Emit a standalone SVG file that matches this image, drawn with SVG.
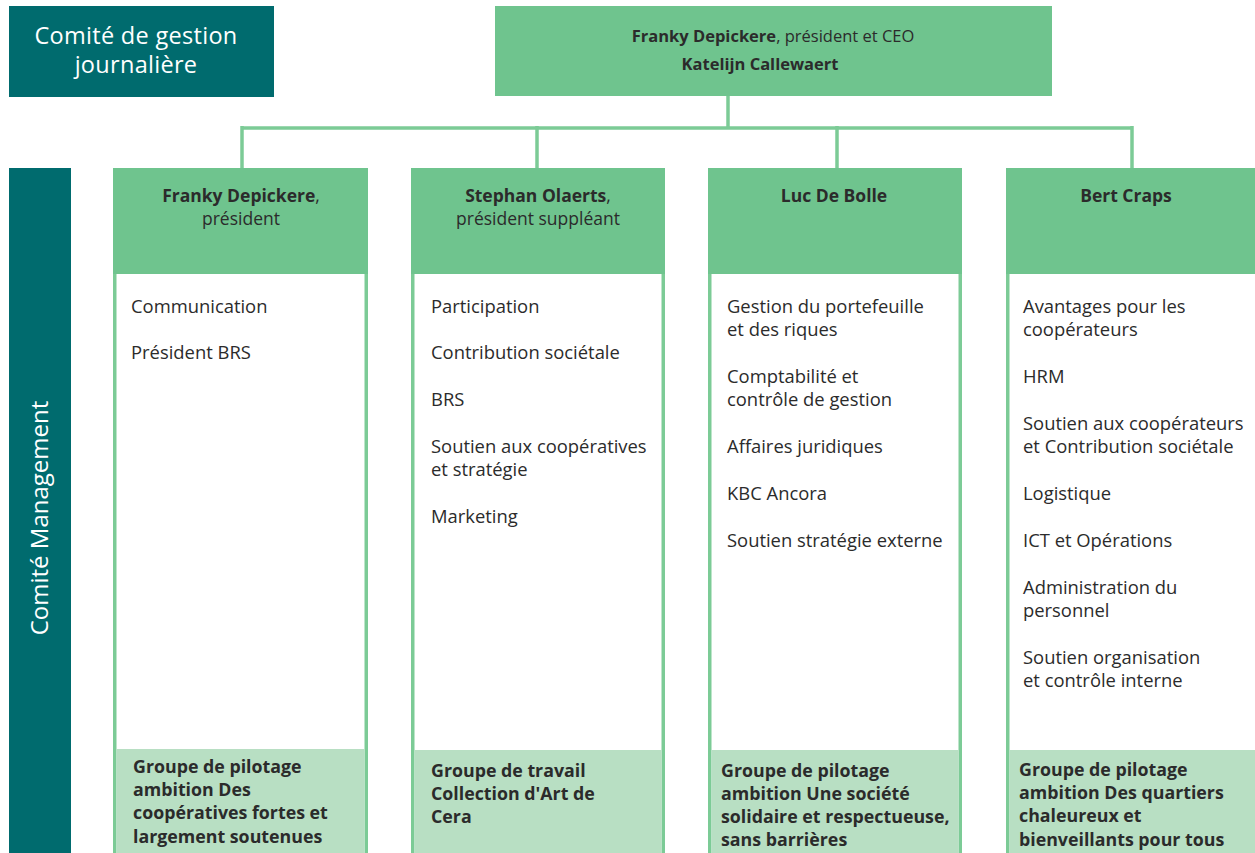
<svg xmlns="http://www.w3.org/2000/svg" width="1255" height="853" viewBox="0 0 1255 853">
<style>
text{font-family:"Open Sans","Lato",sans-serif;fill:#2b2b2b}
.teal{fill:#006b6e}
.hd{fill:#6fc48e}
.ft{fill:#b8dfc3}
.bd{fill:#ffffff;stroke:#7ccb96;stroke-width:3.5}
.li{font-size:18.4px}
.b{font-weight:700;font-size:17.8px}
.h{font-size:17.5px}
.w{fill:#ffffff;font-size:23.5px}
.con{stroke:#7ccb96;stroke-width:3.5;fill:none}
</style>
<rect width="1255" height="853" fill="#ffffff"/>
<g id="gestion">
<rect class="teal" x="9" y="6" width="265" height="91"/>
<text class="w" x="136" y="44" text-anchor="middle" letter-spacing="0.3">Comité de gestion</text>
<text class="w" x="136" y="73" text-anchor="middle" letter-spacing="0.3">journalière</text>
</g>
<g id="management">
<rect class="teal" x="9" y="168" width="62" height="685"/>
<text class="w" transform="translate(48,518) rotate(-90)" text-anchor="middle" style="font-size:24px">Comité Management</text>
</g>
<g id="connectors">
<path class="con" d="M728 96V128M242 128H1132M242 126V168M537 126V168M837 126V168M1132 126V168"/>
</g>
<g id="ceo">
<rect class="hd" x="495" y="6" width="557" height="90"/>
<text x="773" y="42" text-anchor="middle" style="font-size:16.5px"><tspan font-weight="700">Franky Depickere</tspan>, président et CEO</text>
<text x="760" y="70" text-anchor="middle" style="font-size:16.5px;font-weight:700">Katelijn Callewaert</text>
</g>
<g id="col1">
<rect class="bd" x="114.75" y="270" width="251.5" height="600"/>
<rect class="hd" x="113" y="168" width="255" height="106"/>
<rect class="ft" x="116.5" y="749" width="248" height="104"/>
<text class="h" x="241" y="202" text-anchor="middle"><tspan font-weight="700">Franky Depickere</tspan>,</text>
<text class="h" x="241" y="225" text-anchor="middle">président</text>
<text class="li" x="131" y="313">Communication</text>
<text class="li" x="131" y="359">Président BRS</text>
<text class="b" x="133" y="773">Groupe de pilotage</text>
<text class="b" x="133" y="796">ambition Des</text>
<text class="b" x="133" y="819">coopératives fortes et</text>
<text class="b" x="133" y="843">largement soutenues</text>
</g>
<g id="col2">
<rect class="bd" x="412.75" y="270" width="250.5" height="600"/>
<rect class="hd" x="411" y="168" width="254" height="106"/>
<rect class="ft" x="414.5" y="750" width="247" height="103"/>
<text class="h" x="538" y="202" text-anchor="middle"><tspan font-weight="700">Stephan Olaerts</tspan>,</text>
<text class="h" x="538" y="225" text-anchor="middle">président suppléant</text>
<text class="li" x="431" y="313">Participation</text>
<text class="li" x="431" y="359">Contribution sociétale</text>
<text class="li" x="431" y="406">BRS</text>
<text class="li" x="431" y="453">Soutien aux coopératives</text>
<text class="li" x="431" y="476">et stratégie</text>
<text class="li" x="431" y="523">Marketing</text>
<text class="b" x="431" y="777">Groupe de travail</text>
<text class="b" x="431" y="800">Collection d'Art de</text>
<text class="b" x="431" y="823">Cera</text>
</g>
<g id="col3">
<rect class="bd" x="709.75" y="270" width="250.5" height="600"/>
<rect class="hd" x="708" y="168" width="254" height="106"/>
<rect class="ft" x="711.5" y="750" width="247" height="103"/>
<text class="h" x="834" y="202" text-anchor="middle" font-weight="700">Luc De Bolle</text>
<text class="li" x="727" y="313">Gestion du portefeuille</text>
<text class="li" x="727" y="336">et des riques</text>
<text class="li" x="727" y="383">Comptabilité et</text>
<text class="li" x="727" y="406">contrôle de gestion</text>
<text class="li" x="727" y="453">Affaires juridiques</text>
<text class="li" x="727" y="500">KBC Ancora</text>
<text class="li" x="727" y="547">Soutien stratégie externe</text>
<text class="b" x="721" y="777">Groupe de pilotage</text>
<text class="b" x="721" y="800">ambition Une société</text>
<text class="b" x="721" y="823">solidaire et respectueuse,</text>
<text class="b" x="721" y="846">sans barrières</text>
</g>
<g id="col4">
<rect class="bd" x="1007.75" y="270" width="260" height="600"/>
<rect class="hd" x="1006" y="168" width="249" height="106"/>
<rect class="ft" x="1009.5" y="750" width="245.5" height="103"/>
<text class="h" x="1126" y="202" text-anchor="middle" font-weight="700">Bert Craps</text>
<text class="li" x="1023" y="313">Avantages pour les</text>
<text class="li" x="1023" y="336">coopérateurs</text>
<text class="li" x="1023" y="383">HRM</text>
<text class="li" x="1023" y="430">Soutien aux coopérateurs</text>
<text class="li" x="1023" y="453">et Contribution sociétale</text>
<text class="li" x="1023" y="500">Logistique</text>
<text class="li" x="1023" y="547">ICT et Opérations</text>
<text class="li" x="1023" y="594">Administration du</text>
<text class="li" x="1023" y="617">personnel</text>
<text class="li" x="1023" y="664">Soutien organisation</text>
<text class="li" x="1023" y="687">et contrôle interne</text>
<text class="b" x="1019" y="776">Groupe de pilotage</text>
<text class="b" x="1019" y="799">ambition Des quartiers</text>
<text class="b" x="1019" y="822">chaleureux et</text>
<text class="b" x="1019" y="846">bienveillants pour tous</text>
</g>
</svg>
